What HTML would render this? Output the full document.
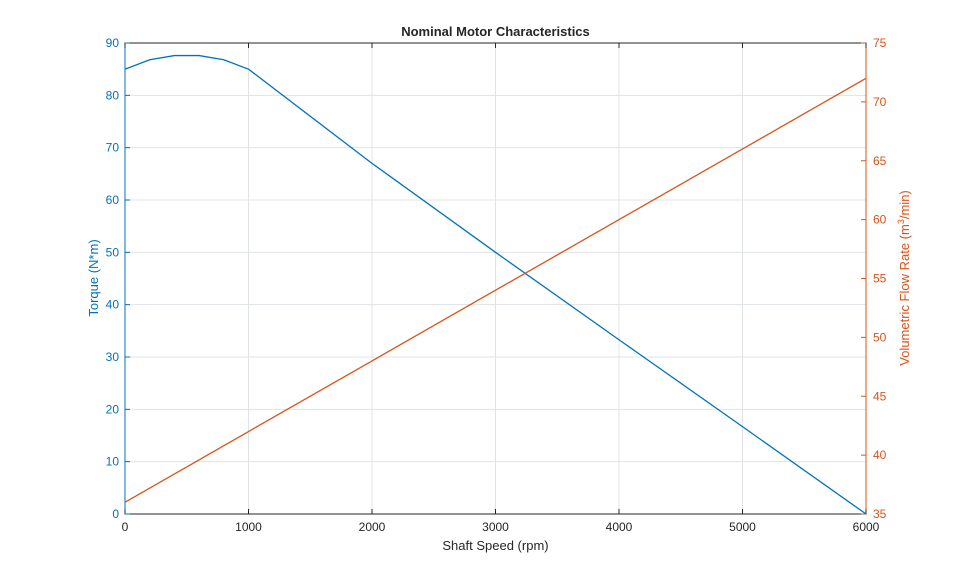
<!DOCTYPE html>
<html><head><meta charset="utf-8"><style>
body{margin:0;background:#fff;font-family:"Liberation Sans",sans-serif}
svg text{font-family:"Liberation Sans",sans-serif}
</style></head><body>
<svg id="c" width="959" height="577"></svg>
<script>
const speeds=[0,200,400,600,800,1000,2000,3000,4000,5000,6000];
const torque=[85,86.8,87.6,87.6,86.8,85,67,50,33.3,16.7,0];
const flowSpeeds=[0,6000];
const flow=[36,72];
const xTicks=[0,1000,2000,3000,4000,5000,6000];
const yLTicks=[0,10,20,30,40,50,60,70,80,90];
const yRTicks=[35,40,45,50,55,60,65,70,75];
const L=125,R=866,T=43,B=514;
const sx=v=>L+(v/6000)*(R-L);
const syL=v=>B-(v/90)*(B-T);
const syR=v=>B-((v-35)/40)*(B-T);
const svg=document.getElementById('c');const NS='http://www.w3.org/2000/svg';
function mk(t,a,p){const e=document.createElementNS(NS,t);for(const k in a)e.setAttribute(k,a[k]);(p||svg).appendChild(e);return e;}
const blue='#0072BD',org='#D95319';
let g;
for(const t of xTicks){g=mk('line',{x1:sx(t),x2:sx(t),y1:T,y2:B,stroke:'#dfe3e8','stroke-width':1});

}
for(const t of yLTicks){g=mk('line',{x1:L,x2:R,y1:syL(t),y2:syL(t),stroke:'#dfe3e8','stroke-width':1});

}
g=mk('rect',{x:L,y:T,width:R-L,height:B-T,fill:'none',stroke:'#262626','stroke-width':1});


g=mk('line',{x1:L,x2:L,y1:T,y2:B,stroke:blue});


g=mk('line',{x1:R,x2:R,y1:T,y2:B,stroke:org});


for(const t of xTicks){mk('line',{x1:sx(t),x2:sx(t),y1:B,y2:B-5,stroke:'#262626'});mk('line',{x1:sx(t),x2:sx(t),y1:T,y2:T+5,stroke:'#262626'});
g=mk('text',{x:sx(t),y:B+17,'text-anchor':'middle','font-size':12,fill:'#262626'});g.textContent=t;

}
for(const t of yLTicks){mk('line',{x1:L,x2:L+5,y1:syL(t),y2:syL(t),stroke:blue});
g=mk('text',{x:L-6,y:syL(t)+4,'text-anchor':'end','font-size':12,fill:blue});g.textContent=t;

}
for(const t of yRTicks){mk('line',{x1:R,x2:R-5,y1:syR(t),y2:syR(t),stroke:org});
g=mk('text',{x:R+7,y:syR(t)+4,'text-anchor':'start','font-size':12,fill:org});g.textContent=t;

}
g=mk('polyline',{points:speeds.map((s,i)=>sx(s)+','+syL(torque[i])).join(' '),fill:'none',stroke:blue,'stroke-width':1.3});


g=mk('polyline',{points:flowSpeeds.map((s,i)=>sx(s)+','+syR(flow[i])).join(' '),fill:'none',stroke:org,'stroke-width':1.3});


g=mk('text',{x:(L+R)/2,y:36,'text-anchor':'middle','font-size':13,'font-weight':'bold',fill:'#262626'});g.textContent='Nominal Motor Characteristics';


g=mk('text',{x:(L+R)/2,y:550,'text-anchor':'middle','font-size':13,fill:'#262626'});g.textContent='Shaft Speed (rpm)';


g=mk('text',{x:0,y:0,'text-anchor':'middle','font-size':13,fill:blue,transform:'translate(98,278) rotate(-90)'});g.textContent='Torque (N*m)';


g=mk('text',{x:0,y:0,'text-anchor':'middle','font-size':13,fill:org,transform:'translate(909,278) rotate(-90)'});
g.innerHTML='Volumetric Flow Rate (m<tspan dy="-5" font-size="9">3</tspan><tspan dy="5">/min)</tspan>';


</script>
</body></html>
